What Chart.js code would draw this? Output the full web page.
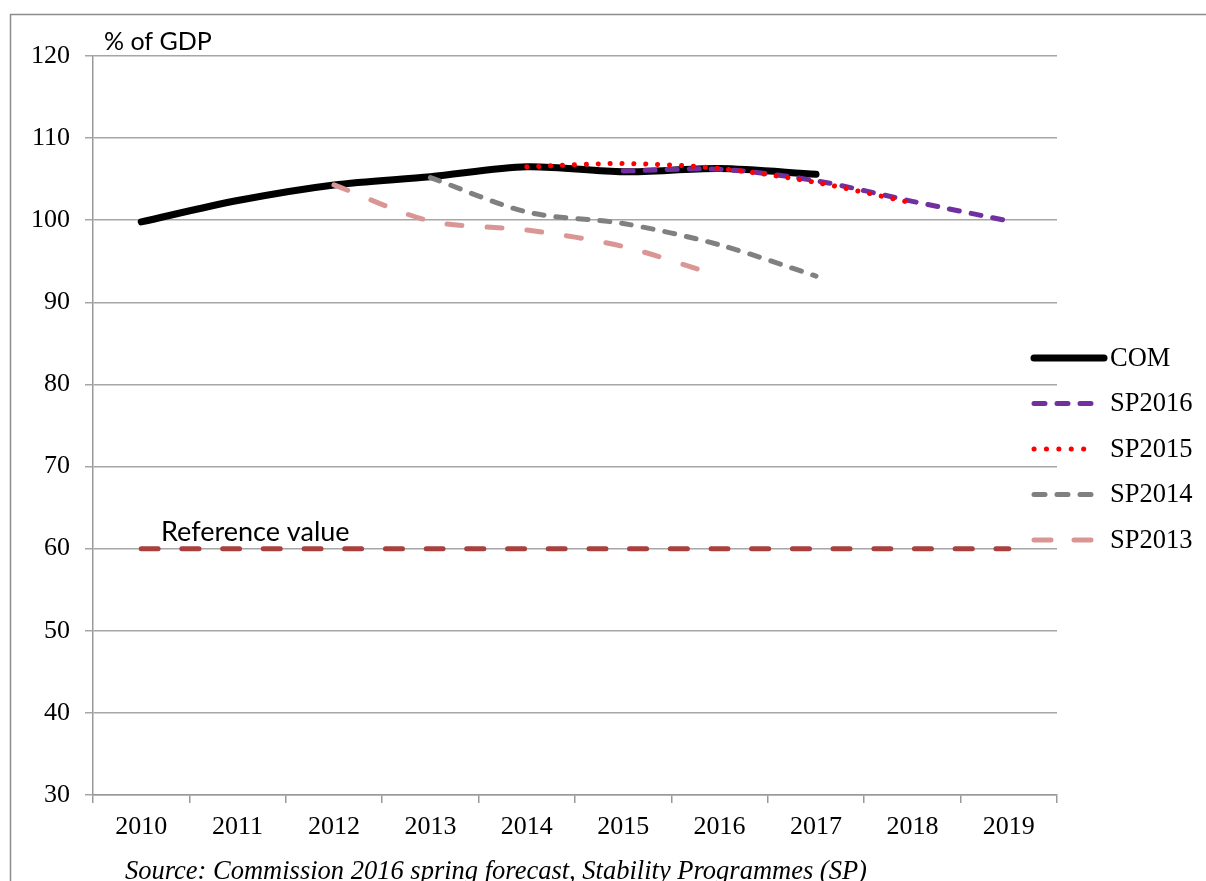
<!DOCTYPE html>
<html lang="en">
<head>
<meta charset="UTF-8">
<title>Debt ratio: COM vs Stability Programmes</title>
<script src="https://cdn.jsdelivr.net/npm/chart.js"></script>
<style>
  * { margin: 0; padding: 0; box-sizing: border-box; }
  body { background: #fff; }
  .wrap { position: relative; width: 1206px; height: 881px; overflow: hidden; }
</style>
</head>
<body>
<div class="wrap"><canvas id="debtChart"></canvas></div>
<script>
// data (% of GDP)
const years = ['2010', '2011', '2012', '2013', '2014', '2015', '2016', '2017', '2018', '2019'];
const com    = [99.8, 102.4, 104.3, 105.3, 106.5, 105.9, 106.3, 105.6, null, null];
const sp2016 = [null, null, null, null, null, 106.0, 106.2, 104.8, 102.3, 99.9];
const sp2015 = [null, null, null, null, 106.5, 106.9, 106.3, 104.6, 102.1, null];
const sp2014 = [null, null, null, 105.2, 101.0, 99.6, 97.0, 93.2, null, null];
const sp2013 = [null, null, 104.3, 99.9, 98.8, 96.8, 93.2, null, null, null];
const refValue = [60, 60, 60, 60, 60, 60, 60, 60, 60, 60];
const yTicks = [30, 40, 50, 60, 70, 80, 90, 100, 110, 120];

const serif = "'Liberation Serif', 'Times New Roman', serif";
const sans = "Lato, 'Open Sans', sans-serif";

// legend entries (drawn by hand on the right)
const legendItems = [
  { label: 'COM',    color: '#000000', width: 7, dash: [] },
  { label: 'SP2016', color: '#7030A0', width: 5, dash: [11, 12] },
  { label: 'SP2015', color: '#FF0000', width: 5, dash: [0.1, 12.3] },
  { label: 'SP2014', color: '#808080', width: 5, dash: [11, 12] },
  { label: 'SP2013', color: '#D99694', width: 5, dash: [17, 23] }
];

const extras = {
  id: 'extras',
  afterDraw(chart) {
    const ctx = chart.ctx;
    const y = chart.scales.y;
    ctx.save();

    // frame of the figure
    ctx.strokeStyle = '#8c8c8c';
    ctx.lineWidth = 1.5;
    ctx.beginPath();
    ctx.moveTo(10.5, 881);
    ctx.lineTo(10.5, 14.5);
    ctx.lineTo(1206, 14.5);
    ctx.stroke();

    // axis caption and reference label
    ctx.fillStyle = '#000';
    ctx.textBaseline = 'middle';
    ctx.textAlign = 'left';
    ctx.font = '25px ' + sans;
    ctx.fillText('% of GDP', 104, 42);
    ctx.font = '27px ' + sans;
    ctx.fillText('Reference value', 161, y.getPixelForValue(60) - 16);

    // source line
    ctx.font = 'italic 26.5px ' + serif;
    ctx.textBaseline = 'alphabetic';
    ctx.fillText('Source: Commission 2016 spring forecast, Stability Programmes (SP)', 125, 879);

    // legend
    legendItems.forEach((it, i) => {
      const ly = 358 + i * 45.5;
      ctx.strokeStyle = it.color;
      ctx.lineWidth = it.width;
      ctx.lineCap = 'round';
      ctx.setLineDash(it.dash);
      ctx.beginPath();
      ctx.moveTo(1034, ly);
      ctx.lineTo(i === 0 ? 1104 : 1096, ly);
      ctx.stroke();
      ctx.setLineDash([]);
      ctx.fillStyle = '#000';
      ctx.font = '26.5px ' + serif;
      ctx.textBaseline = 'middle';
      ctx.fillText(it.label, 1110, ly + 1);
    });
    ctx.restore();
  }
};

function line(label, data, color, width, dash, order) {
  return {
    label: label,
    data: data,
    borderColor: color,
    backgroundColor: color,
    borderWidth: width,
    borderDash: dash,
    borderCapStyle: 'round',
    borderJoinStyle: 'round',
    pointRadius: 0,
    pointHoverRadius: 0,
    tension: 0.3,
    fill: false,
    order: order
  };
}

new Chart(document.getElementById('debtChart'), {
  type: 'line',
  data: {
    labels: years,
    datasets: [
      line('COM', com, '#000000', 7, [], 5),
      line('SP2016', sp2016, '#7030A0', 5, [10, 12], 1),
      line('SP2015', sp2015, '#FF0000', 5, [0.1, 11.8], 0),
      line('SP2014', sp2014, '#808080', 5, [10, 12], 2),
      line('SP2013', sp2013, '#D99694', 5, [15, 25], 3),
      line('Reference value', refValue, '#A9403E', 5, [17, 23.7], 4)
    ]
  },
  options: {
    responsive: true,
    maintainAspectRatio: false,
    animation: false,
    layout: { padding: { top: 56, right: 149, left: 0, bottom: 0 } },
    plugins: {
      legend: { display: false },
      tooltip: { enabled: false }
    },
    scales: {
      x: {
        offset: true,
        grid: {
          offset: true,
          drawOnChartArea: false,
          drawTicks: true,
          tickLength: 8,
          color: '#999999',
          lineWidth: 1.5
        },
        border: { display: true, color: '#999999', width: 1.5 },
        ticks: {
          color: '#000',
          font: { family: serif, size: 26 },
          padding: 9,
          maxRotation: 0,
          autoSkip: false
        },
        afterFit(scale) { scale.height = 86; }
      },
      y: {
        min: 30,
        max: 120,
        afterBuildTicks(scale) { scale.ticks = yTicks.map(v => ({ value: v })); },
        grid: {
          color: '#a6a6a6',
          lineWidth: 1.5,
          drawTicks: true,
          tickLength: 8
        },
        border: { display: true, color: '#999999', width: 1.5 },
        ticks: {
          color: '#000',
          font: { family: serif, size: 26 },
          padding: 15
        },
        afterFit(scale) { scale.width = 93; }
      }
    }
  },
  plugins: [extras]
});
</script>
</body>
</html>
